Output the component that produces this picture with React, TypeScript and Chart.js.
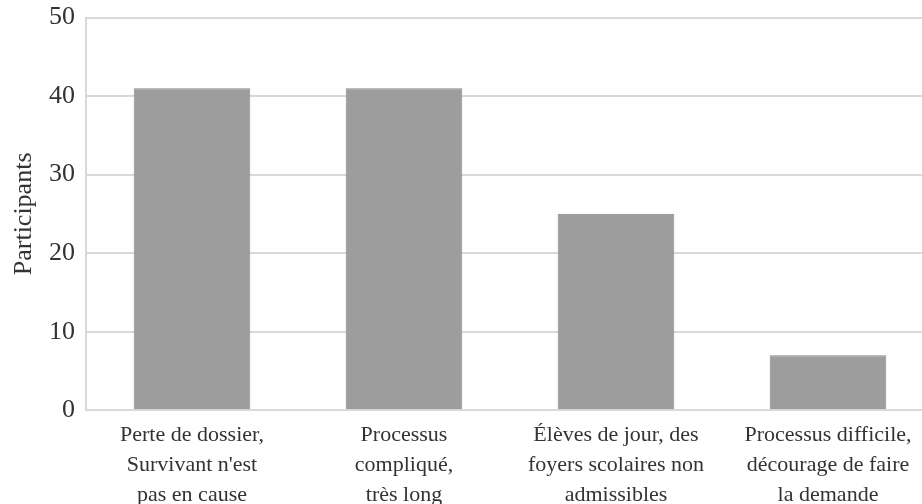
import React, { useEffect, useRef } from "react";
import { Chart, registerables } from "chart.js";

Chart.register(...registerables);

const categories: string[][] = [
  ["Perte de dossier,", "Survivant n'est", "pas en cause"],
  ["Processus", "compliqué,", "très long"],
  ["Élèves de jour, des", "foyers scolaires non", "admissibles"],
  ["Processus difficile,", "décourage de faire", "la demande"],
];
const participants: number[] = [41, 41, 25, 7];
const yTicks: number[] = [0, 10, 20, 30, 40, 50];
const yTitle = "Participants";

const FONT = "'Liberation Serif', 'Times New Roman', serif";
const TEXT = "#333333";
const GRID = "#d9d9d9";

export default function App() {
  const ref = useRef<HTMLCanvasElement | null>(null);
  useEffect(() => {
    if (!ref.current) return;
    const chart = new Chart(ref.current, {
      type: "bar",
      data: {
        labels: categories,
        datasets: [
          {
            data: participants,
            backgroundColor: "#9d9d9e",
            borderColor: "#878787",
            borderWidth: 1,
            barPercentage: 0.55,
            categoryPercentage: 1,
          },
        ],
      },
      options: {
        responsive: false,
        animation: false,
        maintainAspectRatio: false,
        layout: { padding: { top: 17, left: 0, right: 0, bottom: 0 } },
        plugins: { legend: { display: false }, tooltip: { enabled: false } },
        scales: {
          x: {
            grid: { display: false, drawTicks: false },
            border: { display: true, color: GRID, width: 2 },
            ticks: {
              color: TEXT,
              font: { family: FONT, size: 22, lineHeight: 1.36 },
              padding: 10,
              maxRotation: 0,
              autoSkip: false,
            },
          },
          y: {
            min: 0,
            max: 50,
            afterBuildTicks: (axis: any) => {
              axis.ticks = yTicks.map((v) => ({ value: v }));
            },
            afterFit: (axis: any) => {
              axis.width = 86;
            },
            grid: { color: GRID, lineWidth: 2, drawTicks: false },
            border: { display: true, color: GRID, width: 2 },
            ticks: {
              color: TEXT,
              font: { family: FONT, size: 26, lineHeight: 0.5 },
              padding: 11,
            },
            title: {
              display: true,
              text: yTitle,
              color: TEXT,
              font: { family: FONT, size: 26 },
              padding: { top: 9, bottom: 0 },
            },
          },
        },
      },
    });
    return () => chart.destroy();
  }, []);
  return (
    <div
      style={{
        position: "fixed",
        left: 0,
        top: 0,
        width: 922,
        height: 504,
        overflow: "hidden",
        background: "#fff",
      }}
    >
      <canvas ref={ref} width={934} height={520} style={{ width: 934, height: 520, display: "block" }} />
    </div>
  );
}
